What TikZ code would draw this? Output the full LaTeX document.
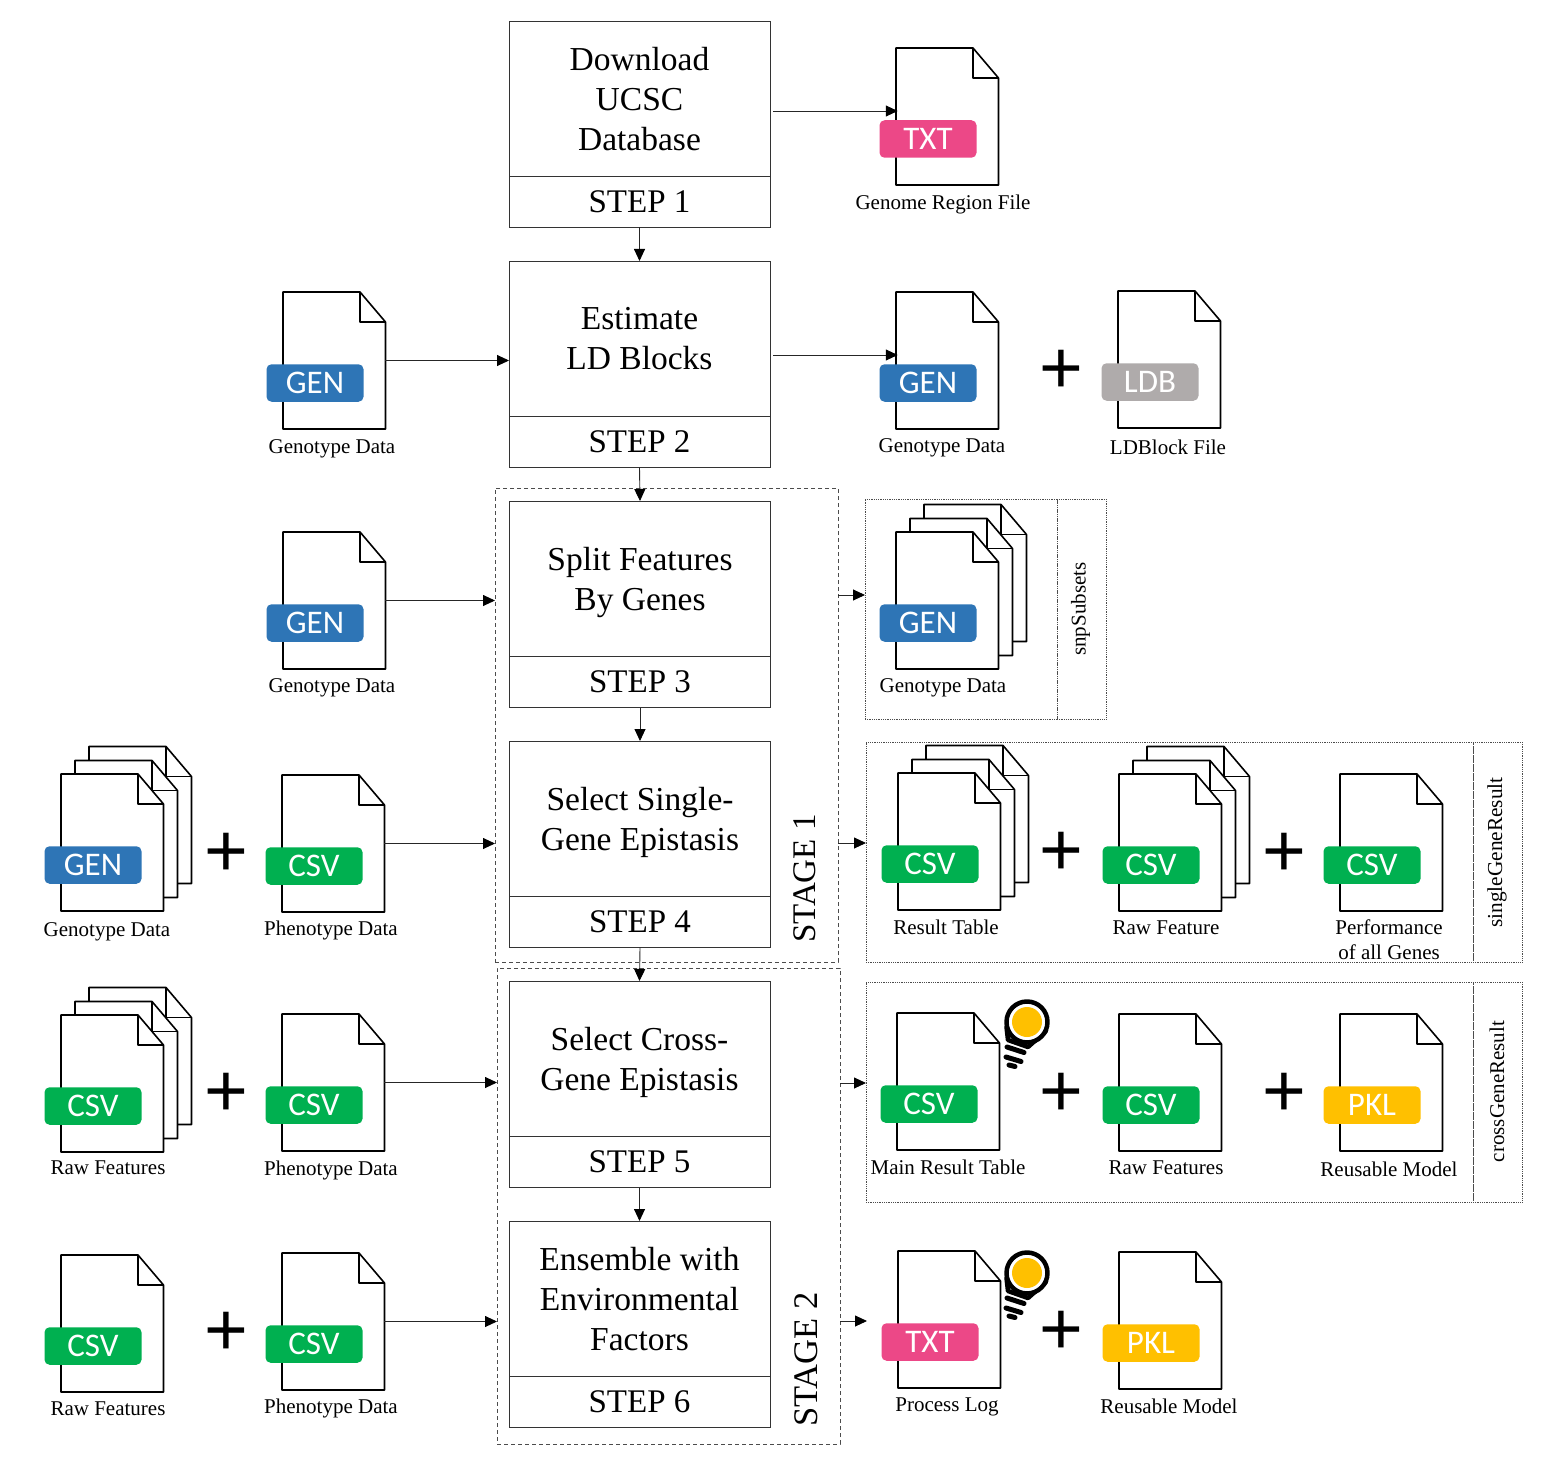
\documentclass[tikz,border=0pt]{standalone}
\usepackage{fontspec}
\setmainfont{Liberation Serif}
\newfontfamily\tagfont{Carlito}
\newfontfamily\plusfont{Liberation Sans}
\usepackage{tikz}
\usetikzlibrary{positioning,arrows.meta}
\definecolor{gencol}{HTML}{2E75B6}
\definecolor{csvcol}{HTML}{00B050}
\definecolor{txtcol}{HTML}{EC4887}
\definecolor{ldbcol}{HTML}{AFABAB}
\definecolor{pklcol}{HTML}{FFC000}
\tikzset{
  bodybox/.style={draw=black!80, line width=0.9pt, minimum width=261, minimum height=155,
    align=center, outer sep=0pt, text depth=0pt, font=\fontsize{33.5}{40}\selectfont},
  stepbox/.style={draw=black!80, line width=0.9pt, minimum width=261, minimum height=51.5,
    outer sep=0pt, font=\fontsize{33}{40}\selectfont},
  stagebox/.style={draw=black!70, line width=0.9pt, dash pattern=on 4pt off 3pt,
    minimum width=343, outer sep=0pt},
  stagelab/.style={rotate=90, font=\fontsize{33}{38}\selectfont},
  resbox/.style={draw=black!70, line width=0.8pt, densely dotted, minimum height=220, outer sep=0pt},
  reslab/.style={resbox, minimum width=49, rotate=0},
  restext/.style={rotate=90, font=\fontsize{21}{26}\selectfont},
  sheet/.style={draw=black, line width=1.6pt, fill=white, line join=round},
  sheetbox/.style={minimum width=102.5, minimum height=137, inner sep=0pt, outer sep=0pt},
  tagbox/.style={rounded corners=5pt, minimum width=97, minimum height=37.5, inner sep=0pt,
    text=white, font=\tagfont\fontsize{33}{33}\selectfont},
  filecap/.style={align=center, inner sep=0pt, text depth=0pt, font=\fontsize{21}{25}\selectfont},
  plussign/.style={inner sep=0pt, xshift=1pt, yshift=-4.5pt, font=\plusfont\fontsize{75}{75}\selectfont},
  arr/.style={-{Triangle[length=12pt,width=11pt,black]}, draw=black!85, line width=0.9pt}}
% one sheet with its folded corner
\newcommand{\docsheet}[2]{%
  \draw[sheet] (#1,#2) -- (#1+77,#2) -- (#1+102.5,#2+30) -- (#1+102.5,#2+137) -- (#1,#2+137) -- cycle;
  \draw[sheet, fill=none] (#1+77,#2) -- (#1+77,#2+30) -- (#1+102.5,#2+30);}
\newcommand{\docfile}[5]{%
  \docsheet{#2}{#3}
  \node[sheetbox] (#1) at (#2+51,#3+68.5) {};
  \node[tagbox, fill=#4] (#1tag) at (#2+32,#3+91) {#5};}
\newcommand{\docstack}[5]{%
  \docsheet{#2+28}{#3-27.5}
  \docsheet{#2+14}{#3-13.5}
  \docfile{#1}{#2}{#3}{#4}{#5}}
\newcommand{\bulbicon}[2]{%
  \begin{scope}[shift={(#1,#2)}, line cap=round, line join=round]
    \draw[line width=4.5pt, fill=white] (-19,18) -- (-20.5,5) -- (19,9) -- (1,25) -- cycle;
    \draw[line width=4.5pt, fill=white] (0,0) circle [radius=20.5];
    \fill[pklcol] (0,0) circle [radius=15];
    \draw[line width=5pt] (-20,25) -- (-3,30.5);
    \draw[line width=5pt] (-21,35) -- (-6,39.5);
    \draw[line width=5pt] (-18,43) -- (-12,44.5);
  \end{scope}}

\begin{document}
\begin{tikzpicture}[x=1pt, y=-1pt]
    \useasboundingbox (0,0) rectangle (1543,1466);
    % stages and result frames
    \node[stagebox, minimum height=474] (st1) at (666.5,725) {};
    \node[stagebox, minimum height=476] (st2) at (668.5,1206) {};
    \node[stagelab] (st1lab) at (805,878.5) {STAGE 1};
    \node[stagelab, font=\fontsize{34.5}{38}\selectfont] (st2lab) at (806,1359.5) {STAGE 2};
    \node[resbox, minimum width=192] (snp) at (961,609) {};
    \node[reslab] (snplab) at (1081.5,609) {};
    \node[restext] (snptxt) at (1080.5,609) {snpSubsets};
    \node[resbox, minimum width=607] (single) at (1169.5,852) {};
    \node[reslab] (singlelab) at (1497.5,852) {};
    \node[restext, font=\fontsize{21.3}{26}\selectfont] (singletxt) at (1497,852.5) {singleGeneResult};
    \node[resbox, minimum width=607] (cross) at (1169.5,1092) {};
    \node[reslab] (crosslab) at (1497.5,1092) {};
    \node[restext] (crosstxt) at (1497,1091.5) {crossGeneResult};
    % steps
    \node[bodybox] (dl) at (639.5,98.5) {Download\\UCSC\\Database};
    \node[stepbox] (s1) at (639.5,201.75) {STEP 1};
    \node[bodybox] (ld) at (639.5,338.5) {Estimate\\LD Blocks};
    \node[stepbox] (s2) at (639.5,441.75) {STEP 2};
    \node[bodybox] (split) at (640,578.5) {Split Features\\By Genes};
    \node[stepbox] (s3) at (640,681.75) {STEP 3};
    \node[bodybox] (sel) at (640,818.5) {Select Single-\\Gene Epistasis};
    \node[stepbox] (s4) at (640,921.75) {STEP 4};
    \node[bodybox] (crs) at (639.5,1058.5) {Select Cross-\\Gene Epistasis};
    \node[stepbox] (s5) at (639.5,1161.75) {STEP 5};
    \node[bodybox] (ens) at (639.5,1298.5) {Ensemble with\\Environmental\\Factors};
    \node[stepbox] (s6) at (639.5,1401.75) {STEP 6};
    % input files
    \docfile{gena}{283}{292}{gencol}{GEN}
    \node[filecap] (genacap) at (332,447) {Genotype Data};
    \docfile{genb}{283}{532}{gencol}{GEN}
    \node[filecap] (genbcap) at (332,686) {Genotype Data};
    \docstack{genc}{61}{774}{gencol}{GEN}
    \node[filecap] (genccap) at (107,930) {Genotype Data};
    \node[plussign] (pa) at (225,850) {+};
    \docfile{phea}{282}{775}{csvcol}{CSV}
    \node[filecap] (pheacap) at (331,928) {Phenotype Data};
    \docstack{rawa}{61}{1015}{csvcol}{CSV}
    \node[filecap] (rawacap) at (108,1168) {Raw Features};
    \node[plussign] (pb) at (225,1090) {+};
    \docfile{pheb}{282}{1014}{csvcol}{CSV}
    \node[filecap] (phebcap) at (331,1168) {Phenotype Data};
    \docfile{rawb}{61}{1255}{csvcol}{CSV}
    \node[filecap] (rawbcap) at (108,1409) {Raw Features};
    \node[plussign] (pc) at (225,1329) {+};
    \docfile{phec}{282}{1253}{csvcol}{CSV}
    \node[filecap] (pheccap) at (331,1406) {Phenotype Data};
    % output files
    \docfile{region}{896}{48}{txtcol}{TXT}
    \node[filecap] (regioncap) at (943,202) {Genome Region File};
    \docfile{gend}{896}{292}{gencol}{GEN}
    \node[filecap] (gendcap) at (942,446) {Genotype Data};
    \node[plussign] (pd) at (1060,367) {+};
    \docfile{ldb}{1118}{291}{ldbcol}{LDB}
    \node[filecap] (ldbcap) at (1168,447) {LDBlock File};
    \docstack{gene}{896}{532}{gencol}{GEN}
    \node[filecap] (genecap) at (943,686) {Genotype Data};
    \docstack{resa}{898}{773}{csvcol}{CSV}
    \node[filecap] (resacap) at (946,927) {Result Table};
    \node[plussign] (pe) at (1060,849) {+};
    \docstack{rawc}{1119}{774}{csvcol}{CSV}
    \node[filecap] (rawccap) at (1166,928) {Raw Feature};
    \node[plussign] (pf) at (1283,850) {+};
    \docfile{perf}{1340}{774}{csvcol}{CSV}
    \node[filecap] (perfcap) at (1389,939.5) {Performance\\of all Genes};
    \docfile{mainres}{897}{1013}{csvcol}{CSV}
    \bulbicon{1027}{1022}
    \node[filecap] (mainrescap) at (948,1167) {Main Result Table};
    \node[plussign] (pg) at (1060,1090) {+};
    \docfile{rawd}{1119}{1014}{csvcol}{CSV}
    \node[filecap] (rawdcap) at (1166,1168) {Raw Features};
    \node[plussign] (ph) at (1283,1090) {+};
    \docfile{pkla}{1340}{1014}{pklcol}{PKL}
    \node[filecap] (pklacap) at (1389,1169) {Reusable Model};
    \docfile{plog}{898}{1251}{txtcol}{TXT}
    \bulbicon{1027}{1273}
    \node[filecap] (plogcap) at (947,1405) {Process Log};
    \node[plussign] (pi) at (1060,1328) {+};
    \docfile{pklb}{1119}{1252}{pklcol}{PKL}
    \node[filecap] (pklbcap) at (1169,1406) {Reusable Model};
    % connectors
    \foreach \a/\b in {s1/ld,s2/split,s3/sel,s4/crs,s5/ens}
      \draw[arr] (\a.south) -- (\b.north);
    \draw[arr] (gena.east) -- (gena.east -| ld.west);
    \foreach \f/\s in {genb/st1,phea/st1,pheb/st2,phec/st2}
      \draw[arr] (\f.east) -- (\f.east -| \s.west);
    \draw[arr] ([xshift=3pt,yshift=-12.5pt]dl.east) -- ([xshift=2pt,yshift=-12.5pt]dl.east -| region.west);
    \draw[arr] ([xshift=3pt,yshift=-16.5pt]ld.east) -- ([xshift=2pt,yshift=-16.5pt]ld.east -| gend.west);
    \draw[arr] ([yshift=14pt]snp.west -| st1.east) -- ([yshift=14pt]snp.west);
    \draw[arr] ([yshift=9pt]single.west -| st1.east) -- ([yshift=9pt]single.west);
    \draw[arr] ([yshift=9pt]cross.west -| st2.east) -- ([yshift=9pt]cross.west);
    \coordinate (logend) at (867,1321);
    \draw[arr] (logend -| st2.east) -- (logend);
\end{tikzpicture}
\end{document}
